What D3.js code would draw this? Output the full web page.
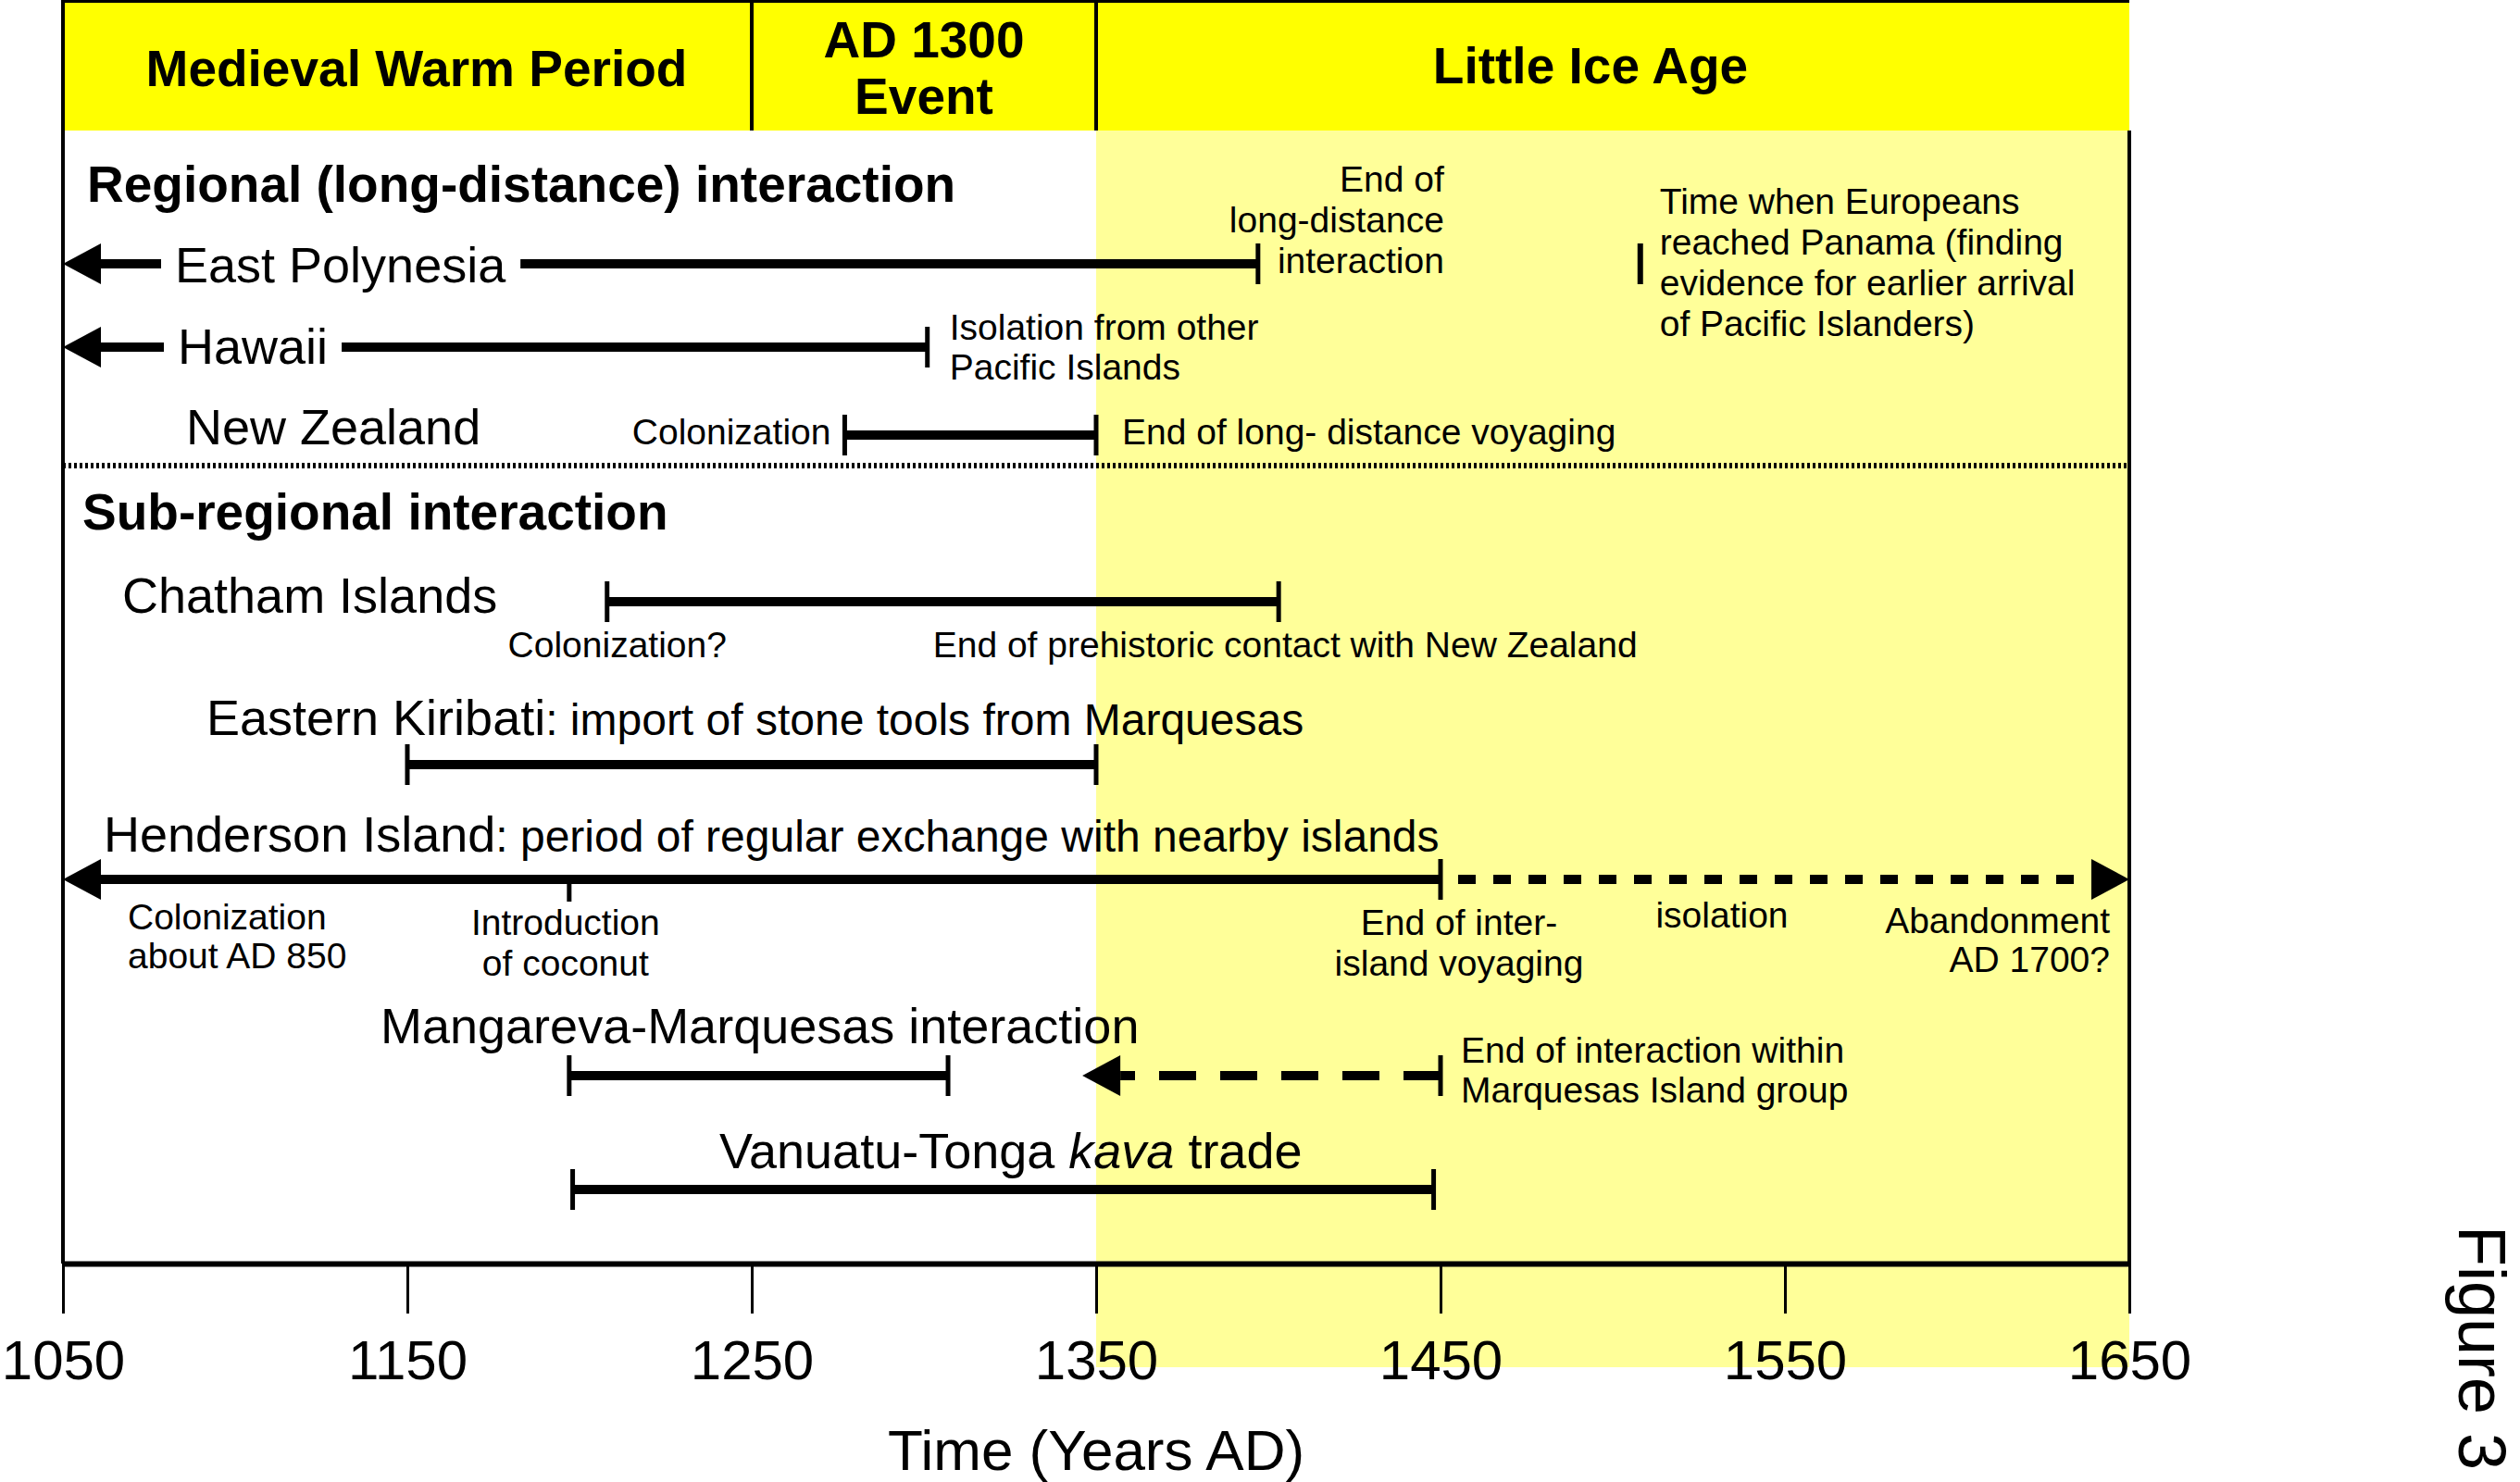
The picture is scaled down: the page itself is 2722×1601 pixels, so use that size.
<!DOCTYPE html>
<html>
<head>
<meta charset="utf-8">
<script src="https://cdn.jsdelivr.net/npm/d3@7/dist/d3.min.js"></script>
<style>
  body { margin: 0; background: #fff; }
  text { font-family: "Liberation Sans", Arial, sans-serif; fill: #000; }
</style>
</head>
<body>
<div id="chart"></div>
<script>
// ---- data ----
var periodNames = [["Medieval Warm Period"], ["AD 1300", "Event"], ["Little Ice Age"]];
var periodStart = [1050, 1250, 1350];
var periodEnd   = [1250, 1350, 1650];

var yearTicks = [1050, 1150, 1250, 1350, 1450, 1550, 1650];

var sections = ["Regional (long-distance) interaction", "Sub-regional interaction"];

var rows = ["East Polynesia", "Hawaii", "New Zealand", "Chatham Islands",
            "Eastern Kiribati", "Henderson Island", "Mangareva-Marquesas interaction",
            "Vanuatu-Tonga kava trade"];
var rowSuffix = {
    "Eastern Kiribati": ": import of stone tools from Marquesas",
    "Henderson Island": ": period of regular exchange with nearby islands"
};

// spans: start/end caps are "arrow", "bar" or "none"
var spans = [
    {row: "East Polynesia", from: 1050, to: 1397, startCap: "arrow", endCap: "bar", style: "solid"},
    {row: "Hawaii", from: 1050, to: 1301, startCap: "arrow", endCap: "bar", style: "solid"},
    {row: "New Zealand", from: 1277, to: 1350, startCap: "bar", endCap: "bar", style: "solid"},
    {row: "Chatham Islands", from: 1208, to: 1403, startCap: "bar", endCap: "bar", style: "solid"},
    {row: "Eastern Kiribati", from: 1150, to: 1350, startCap: "bar", endCap: "bar", style: "solid"},
    {row: "Henderson Island", from: 1050, to: 1450, startCap: "arrow", endCap: "bar", style: "solid"},
    {row: "Henderson Island", from: 1450, to: 1650, startCap: "none", endCap: "arrow", style: "dotted"},
    {row: "Mangareva-Marquesas interaction", from: 1197, to: 1307, startCap: "bar", endCap: "bar", style: "solid"},
    {row: "Mangareva-Marquesas interaction", from: 1450, to: 1346, startCap: "bar", endCap: "arrow", style: "dashed"},
    {row: "Vanuatu-Tonga kava trade", from: 1198, to: 1448, startCap: "bar", endCap: "bar", style: "solid"}
];

// single ticks
var markers = [
    {row: "East Polynesia", year: 1508, kind: "bar"},
    {row: "Henderson Island", year: 1197, kind: "down"}
];

var notes = [
    {row: "East Polynesia", year: 1397, lines: ["End of", "long-distance", "interaction"]},
    {row: "East Polynesia", year: 1508, lines: ["Time when Europeans", "reached Panama (finding", "evidence for earlier arrival", "of Pacific Islanders)"]},
    {row: "Hawaii", year: 1301, lines: ["Isolation from other", "Pacific Islands"]},
    {row: "New Zealand", year: 1277, lines: ["Colonization"]},
    {row: "New Zealand", year: 1350, lines: ["End of long- distance voyaging"]},
    {row: "Chatham Islands", year: 1208, lines: ["Colonization?"]},
    {row: "Chatham Islands", year: 1403, lines: ["End of prehistoric contact with New Zealand"]},
    {row: "Henderson Island", year: 1050, lines: ["Colonization", "about AD 850"]},
    {row: "Henderson Island", year: 1197, lines: ["Introduction", "of coconut"]},
    {row: "Henderson Island", year: 1450, lines: ["End of inter-", "island voyaging"]},
    {row: "Henderson Island", year: 1550, lines: ["isolation"]},
    {row: "Henderson Island", year: 1650, lines: ["Abandonment", "AD 1700?"]},
    {row: "Mangareva-Marquesas interaction", year: 1450, lines: ["End of interaction within", "Marquesas Island group"]}
];

// ---- layout ----
var W = 2722, H = 1601;
var frame = {left: 68, right: 2300, head: 141, axis: 1365, shadeBottom: 1477, sepY: 503};
var rowY = [285, 375, 470, 650, 826, 950, 1162, 1285];
var labelDx = [121, 124, 133, 64, 155, 44, 343, 709];   // from frame left
var labelDy = [20, 18, 10, 12, -32, -30, -35, -23];      // baseline vs line
var knockout = [true, true, false, false, false, false, false, false];
var headerDx = [10, 0, -24];
var headerBase = [[93], [62, 123], [90]];
var sectionPos = [[94, 218], [89, 572]];
var noteLayout = [
    {anchor: "end", dx: 201, dy: -78, lh: 44},
    {anchor: "start", dx: 21, dy: -54, lh: 44},
    {anchor: "start", dx: 24, dy: -8, lh: 43},
    {anchor: "end", dx: -15, dy: 10, lh: 43},
    {anchor: "start", dx: 28, dy: 10, lh: 43},
    {anchor: "middle", dx: 11, dy: 60, lh: 43},
    {anchor: "middle", dx: 7, dy: 60, lh: 43},
    {anchor: "start", dx: 70, dy: 54, lh: 42},
    {anchor: "middle", dx: -4, dy: 60, lh: 44},
    {anchor: "middle", dx: 20, dy: 60, lh: 44},
    {anchor: "middle", dx: -68, dy: 52, lh: 42},
    {anchor: "end", dx: -21, dy: 58, lh: 42},
    {anchor: "start", dx: 22, dy: -14, lh: 43}
];
var lineW = 10, capH = 22, arrowL = 41, arrowHH = 22;

var x = d3.scaleLinear().domain([periodStart[0], periodEnd[2]]).range([frame.left, frame.right]);
var yOf = function (r) { return rowY[rows.indexOf(r)]; };

var svg = d3.select("#chart").append("svg").attr("width", W).attr("height", H);

// light yellow shading for the Little Ice Age
svg.append("rect")
    .attr("x", x(periodStart[2])).attr("y", frame.head)
    .attr("width", x(periodEnd[2]) - x(periodStart[2])).attr("height", frame.shadeBottom - frame.head)
    .attr("fill", "#ffff99");

// header band
var head = svg.append("g");
head.selectAll("rect").data(periodNames).enter().append("rect")
    .attr("x", function (d, i) { return x(periodStart[i]); }).attr("y", 0)
    .attr("width", function (d, i) { return x(periodEnd[i]) - x(periodStart[i]); })
    .attr("height", frame.head).attr("fill", "#ffff00");
head.selectAll("line").data(periodStart.slice(1)).enter().append("line")
    .attr("x1", function (d) { return x(d); }).attr("x2", function (d) { return x(d); })
    .attr("y1", 0).attr("y2", frame.head).attr("stroke", "#000").attr("stroke-width", 4);
head.selectAll("text").data(periodNames).enter().append("text")
    .attr("text-anchor", "middle").attr("font-size", 55).attr("font-weight", "bold")
    .each(function (d, i) {
        var cx = (x(periodStart[i]) + x(periodEnd[i])) / 2 + headerDx[i];
        for (var k = 0; k < d.length; k++) {
            d3.select(this).append("tspan").attr("x", cx).attr("y", headerBase[i][k]).text(d[k]);
        }
    });

// frame
svg.append("line").attr("x1", frame.left).attr("x2", frame.right).attr("y1", 1.5).attr("y2", 1.5)
    .attr("stroke", "#000").attr("stroke-width", 3);
svg.append("line").attr("x1", frame.left).attr("x2", frame.left).attr("y1", 0).attr("y2", frame.axis)
    .attr("stroke", "#000").attr("stroke-width", 4);
svg.append("line").attr("x1", frame.right).attr("x2", frame.right).attr("y1", frame.head).attr("y2", frame.axis)
    .attr("stroke", "#000").attr("stroke-width", 4);

// dotted separator between the two sections
svg.append("line").attr("x1", frame.left).attr("x2", frame.right).attr("y1", frame.sepY).attr("y2", frame.sepY)
    .attr("stroke", "#000").attr("stroke-width", 6).attr("stroke-dasharray", "3,3");

svg.append("g").selectAll("text").data(sections).enter().append("text")
    .attr("x", function (d, i) { return sectionPos[i][0]; })
    .attr("y", function (d, i) { return sectionPos[i][1]; })
    .attr("font-size", 55).attr("font-weight", "bold").text(function (d) { return d; });

// spans
var g_spans = svg.append("g");
spans.forEach(function (s) {
    var y = yOf(s.row), x1 = x(s.from), x2 = x(s.to), dir = x2 > x1 ? 1 : -1;
    var a = x1, b = x2;
    if (s.startCap == "arrow") {
        a = x1 + dir * arrowL;
        g_spans.append("path").attr("fill", "#000")
            .attr("d", "M" + x1 + "," + y + "L" + a + "," + (y - arrowHH) + "L" + a + "," + (y + arrowHH) + "Z");
    }
    if (s.endCap == "arrow") {
        b = x2 - dir * arrowL;
        g_spans.append("path").attr("fill", "#000")
            .attr("d", "M" + x2 + "," + y + "L" + b + "," + (y - arrowHH) + "L" + b + "," + (y + arrowHH) + "Z");
    }
    var ln = g_spans.append("line").attr("x1", a).attr("x2", b).attr("y1", y).attr("y2", y)
        .attr("stroke", "#000").attr("stroke-width", lineW);
    if (s.style == "dotted") ln.attr("stroke-dasharray", "19,19").attr("stroke-dashoffset", 19);
    if (s.style == "dashed") ln.attr("stroke-dasharray", "40,26");
    [[s.startCap, x1], [s.endCap, x2]].forEach(function (c) {
        if (c[0] == "bar") {
            g_spans.append("line").attr("x1", c[1]).attr("x2", c[1]).attr("y1", y - capH).attr("y2", y + capH)
                .attr("stroke", "#000").attr("stroke-width", 5);
        }
    });
});

markers.forEach(function (m) {
    var y = yOf(m.row), mx = x(m.year);
    g_spans.append("line").attr("x1", mx).attr("x2", mx)
        .attr("y1", m.kind == "down" ? y : y - capH).attr("y2", m.kind == "down" ? y + 24 : y + capH)
        .attr("stroke", "#000").attr("stroke-width", m.kind == "down" ? 5 : 6);
});

// row labels
var g_labels = svg.append("g");
rows.forEach(function (r, i) {
    var t = g_labels.append("text").attr("x", frame.left + labelDx[i]).attr("y", rowY[i] + labelDy[i])
        .attr("font-size", 54);
    var parts = r.split("kava");
    if (parts.length > 1) {
        t.append("tspan").text(parts[0]);
        t.append("tspan").attr("font-style", "italic").text("kava");
        t.append("tspan").text(parts[1]);
    } else {
        t.append("tspan").text(r);
    }
    if (rowSuffix[r]) t.append("tspan").attr("font-size", 48).text(rowSuffix[r]);
    if (knockout[i]) {
        var bb = t.node().getBBox();
        g_labels.insert("rect", function () { return t.node(); })
            .attr("x", bb.x - 15).attr("y", rowY[i] - 10).attr("width", bb.width + 30).attr("height", 20)
            .attr("fill", "#fff");
    }
});

// annotations
svg.append("g").selectAll("text").data(notes).enter().append("text")
    .attr("font-size", 39)
    .attr("text-anchor", function (d, i) { return noteLayout[i].anchor; })
    .each(function (d, i) {
        var L = noteLayout[i], nx = x(d.year) + L.dx, ny = yOf(d.row) + L.dy;
        for (var k = 0; k < d.lines.length; k++) {
            d3.select(this).append("tspan").attr("x", nx).attr("y", ny + k * L.lh).text(d.lines[k]);
        }
    });

// time axis
var axis = svg.append("g").attr("transform", "translate(0," + frame.axis + ")")
    .call(d3.axisBottom(x).tickValues(yearTicks).tickSize(54).tickSizeOuter(0).tickFormat(d3.format("d")));
axis.select(".domain").attr("stroke-width", 6);
axis.selectAll(".tick line").attr("stroke-width", 3);
axis.selectAll(".tick text").attr("y", 125).attr("dy", 0).attr("font-size", 60)
    .attr("font-family", "Liberation Sans, Arial, sans-serif");

svg.append("text").attr("x", x(periodStart[2])).attr("y", 1588).attr("text-anchor", "middle")
    .attr("font-size", 62).text("Time (Years AD)");

// side caption, reads top to bottom
svg.append("text").attr("transform", "translate(2656,1324) rotate(90)")
    .attr("font-size", 72).text("Figure 3");
</script>
</body>
</html>
